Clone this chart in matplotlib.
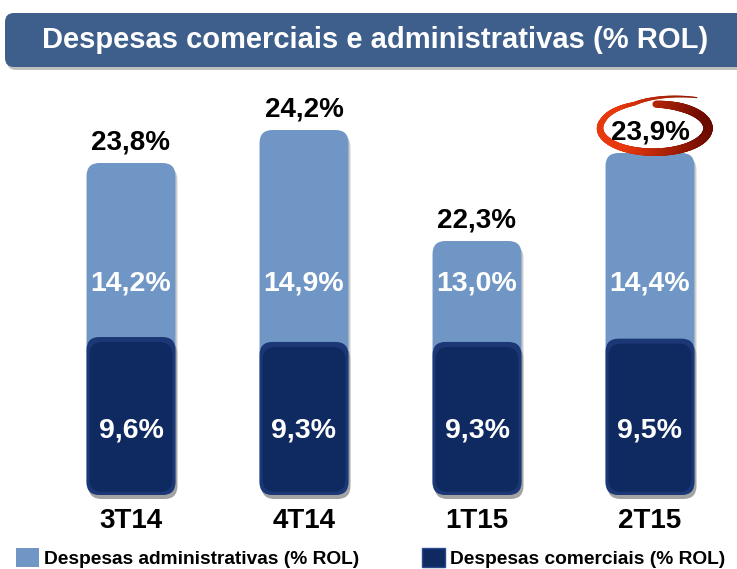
import numpy as np
import matplotlib.pyplot as plt
from matplotlib.patches import FancyBboxPatch, Patch
from matplotlib.transforms import IdentityTransform, blended_transform_factory
from matplotlib.collections import LineCollection

plt.rcParams['font.family'] = ['Liberation Sans', 'DejaVu Sans']
NARROW = ['Liberation Sans Narrow', 'Liberation Sans']

# dados (% da ROL)
trimestres = ['3T14', '4T14', '1T15', '2T15']
desp_com = [9.6, 9.3, 9.3, 9.5]
desp_adm = [14.2, 14.9, 13.0, 14.4]
total = [23.8, 24.2, 22.3, 23.9]
destaque = 3  # 2T15 circulado

AZUL_CLARO = '#6f96c4'
AZUL_ESCURO = '#0f2961'
AZUL_TITULO = '#3e5f8b'

def fmt(v):
    return f'{v:.1f}%'.replace('.', ',')

# o slide original nao usa escala linear (eixo "quebrado"), aproximo por partes
kv = [0, 9.6, 22.3, 23.8, 23.9, 24.2, 30]
kp = [0, 158, 254, 332, 342, 365, 700]
def fwd(v):
    return np.interp(v, kv, kp)
def inv(p):
    return np.interp(p, kp, kv)

W, H = 737, 569
fig = plt.figure(figsize=(W/100, H/100), dpi=100)
ax = fig.add_axes([44.5/W, (H-495)/H, 692/W, 415/H])
ax.set_yscale('function', functions=(fwd, inv))
ax.set_xlim(-0.5, 3.5)
ax.set_ylim(0, inv(415))
ax.set_frame_on(False)
ax.set_yticks([])

x = np.arange(len(trimestres))
larg = 0.514
b_com = ax.bar(x, desp_com, larg, color=AZUL_ESCURO)
b_adm = ax.bar(x, desp_adm, larg, bottom=desp_com, color=AZUL_CLARO)

def arredonda(rect, cor, base=False, r=13, z=2, borda=None):
    x0, y0 = rect.get_x(), rect.get_y()
    x1, y1 = x0 + rect.get_width(), y0 + rect.get_height()
    (px0, py0), (px1, py1) = ax.transData.transform([(x0, 0 if base else y0), (x1, y1)])
    rect.set_visible(False)
    box = f'round,pad=0,rounding_size={r}'
    ax.add_patch(FancyBboxPatch((px0+2, py0-4), px1-px0, py1-py0, boxstyle=box,
                                transform=IdentityTransform(), fc='k', ec='none',
                                alpha=0.2, zorder=z-0.5, clip_on=False))
    ax.add_patch(FancyBboxPatch((px0, py0), px1-px0, py1-py0, boxstyle=box,
                                transform=IdentityTransform(), fc=borda or cor, ec='none',
                                zorder=z, clip_on=False))
    if borda:
        ax.add_patch(FancyBboxPatch((px0+3, py0+3), px1-px0-6, py1-py0-8, boxstyle=box,
                                    transform=IdentityTransform(), fc=cor, ec='none',
                                    zorder=z+0.1, clip_on=False))

for r in b_adm:
    arredonda(r, AZUL_CLARO, base=True, z=2)
for r in b_com:
    arredonda(r, AZUL_ESCURO, z=2.5, borda='#1c3775')

tr = blended_transform_factory(ax.transData, ax.transAxes)
for xi, c, a, t in zip(x, desp_com, desp_adm, total):
    ax.annotate(fmt(t), (xi, t), xytext=(0, 15), textcoords='offset points',
                ha='center', va='center', fontsize=20, fontweight='bold', zorder=6)
    ax.text(xi, 0.51, fmt(a), transform=tr, ha='center', va='center',
            fontsize=20.5, fontweight='bold', color='white', zorder=4)
    ax.text(xi, 0.155, fmt(c), transform=tr, ha='center', va='center',
            fontsize=20.5, fontweight='bold', color='white', zorder=4)

ax.set_xticks(x, trimestres, fontsize=20, fontweight='bold')
ax.tick_params(axis='x', length=0, pad=9)

# circulo vermelho em volta do 2T15
cx, cy = ax.transData.transform((x[destaque], total[destaque]))
cx += 4
cy += 15 * 100 / 72 + 4
th = np.linspace(np.deg2rad(88), np.deg2rad(-302), 400)
grau = np.rad2deg(th)
s = np.interp(grau, [-302, -250, -200, 88], [1.5, 1.08, 1.0, 1.0])
px = cx + 54 * s * np.cos(th)
py = cy + 24 * s * np.sin(th)
pts = np.column_stack([px, py]).reshape(-1, 1, 2)
segs = np.concatenate([pts[:-1], pts[1:]], axis=1)
escuro = np.clip((np.cos(th[:-1]) + 0.6) / 1.6, 0, 1)
c1, c2 = np.array([0.91, 0.22, 0.05]), np.array([0.42, 0.04, 0.0])
cores = c1 + (c2 - c1) * escuro[:, None]
gm = grau[:-1]
lw = np.interp(gm, [-302, -240, -180, -90, 0, 60, 88], [0.8, 3.0, 4.6, 5.4, 6.8, 6.2, 5.0])
lc = LineCollection(segs, colors=cores, linewidths=lw, transform=IdentityTransform(),
                    capstyle='round', zorder=5, clip_on=False)
ax.add_collection(lc, autolim=False)

# faixa do titulo
fig.add_artist(FancyBboxPatch((7, H-70), 800, 54, boxstyle='round,pad=0,rounding_size=9',
                              transform=IdentityTransform(), fc='#000000', ec='none', alpha=0.25))
fig.add_artist(FancyBboxPatch((5, H-67), 800, 54, boxstyle='round,pad=0,rounding_size=9',
                              transform=IdentityTransform(), fc=AZUL_TITULO, ec='none'))
fig.text(375/W, (H-40)/H, 'Despesas comerciais e administrativas (% ROL)', ha='center',
         va='center', color='white', fontsize=21, fontweight='bold', family=NARROW)

handles = [Patch(fc=AZUL_CLARO), Patch(fc=AZUL_ESCURO, ec='#2a4a90', lw=1)]
fig.legend(handles, ['Despesas administrativas (% ROL)', 'Despesas comerciais (% ROL)'],
           ncol=2, loc='lower left', bbox_to_anchor=(16/W, 1/H), frameon=False,
           borderpad=0, borderaxespad=0, handlelength=1.2, handleheight=1.15,
           handletextpad=0.25, columnspacing=3.3,
           prop={'weight': 'bold', 'size': 13.8})

fig.savefig('out.png', dpi=100)
